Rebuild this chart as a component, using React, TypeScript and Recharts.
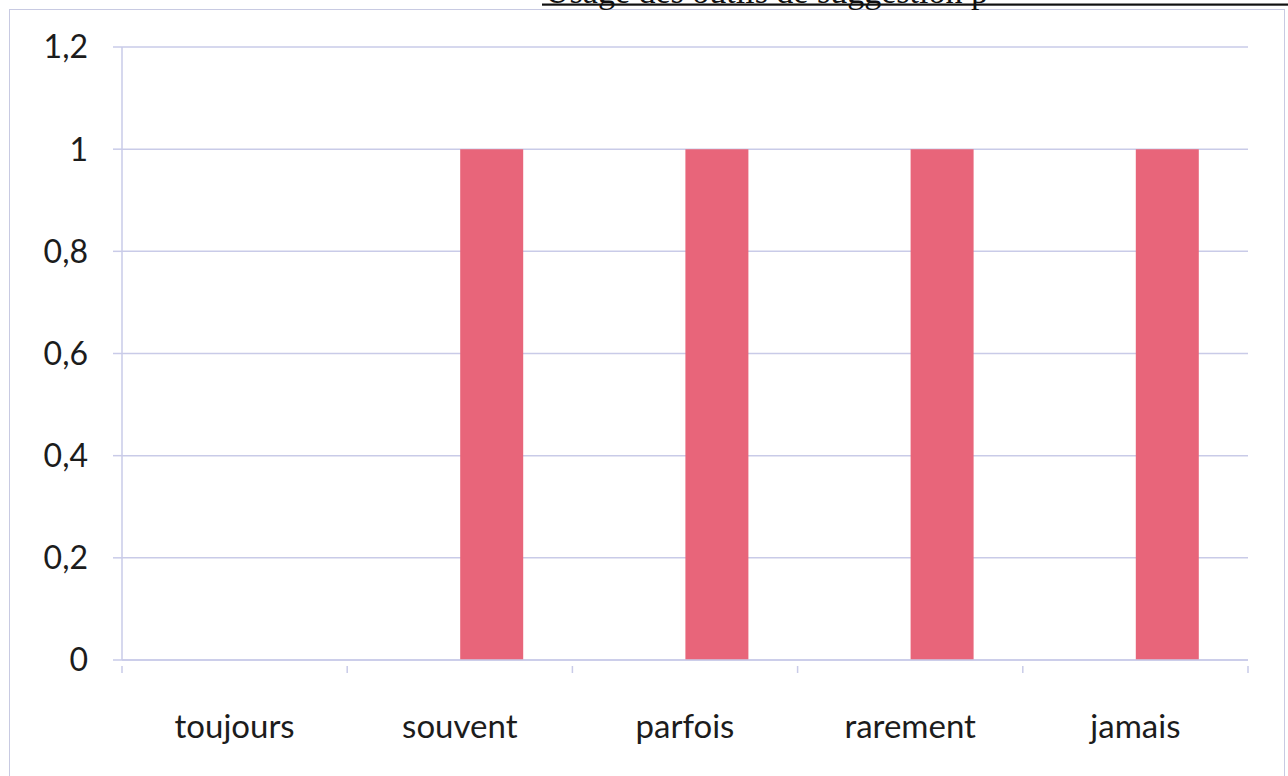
import { Bar, BarChart, CartesianGrid, XAxis, YAxis } from 'recharts';

const CATEGORIES = ['toujours', 'souvent', 'parfois', 'rarement', 'jamais'];
const SERIE_1 = [0, 0, 0, 0, 0];
const SERIE_2 = [0, 1, 1, 1, 1];
const Y_TICKS = [0, 0.2, 0.4, 0.6, 0.8, 1, 1.2];
const TITLE = 'Usage des outils de suggestion p';

const GRID = '#c9cbe8';
const TEXT = '#1c1c1c';
const BAR = '#e8657a';
const FONT = 'Lato, "Open Sans", sans-serif';

const data = CATEGORIES.map((name, i) => ({ name, s1: SERIE_1[i], s2: SERIE_2[i] }));

function XTick(props: any) {
  const { x, y, payload, index } = props;
  const half = payload?.offset || 112.6;
  const axisY = y - 49;
  return (
    <g>
      <line x1={x - half} x2={x - half} y1={axisY} y2={axisY + 7} stroke={GRID} strokeWidth={1.5} />
      {index === CATEGORIES.length - 1 && (
        <line x1={x + half} x2={x + half} y1={axisY} y2={axisY + 7} stroke={GRID} strokeWidth={1.5} />
      )}
      <text x={x} y={y} dy="0.71em" textAnchor="middle" fill={TEXT} fontSize={33} fontFamily={FONT}>
        {payload.value}
      </text>
    </g>
  );
}

export default function App() {
  return (
    <div style={{ position: 'fixed', left: 0, top: 0, width: 1288, height: 776, overflow: 'hidden', background: '#fff' }}>
      <div
        style={{
          position: 'absolute',
          left: 9,
          top: 9,
          width: 1276,
          height: 800,
          border: '1.5px solid #c8cae2',
          boxSizing: 'border-box',
        }}
      />
      <div style={{ position: 'absolute', left: 0, top: 0 }}>
        <BarChart
          width={1288}
          height={776}
          data={data}
          margin={{ top: 47, right: 40, bottom: 36, left: 0 }}
          barSize={63}
          barGap={0}
        >
          <CartesianGrid vertical={false} stroke={GRID} strokeWidth={1.5} />
          <XAxis
            dataKey="name"
            height={80}
            axisLine={{ stroke: GRID, strokeWidth: 1.5 }}
            tickLine={false}
            tickMargin={49}
            tick={<XTick />}
            interval={0}
          />
          <YAxis
            width={122}
            domain={[0, 1.2]}
            ticks={Y_TICKS}
            tickFormatter={(v: number) => String(v).replace('.', ',')}
            axisLine={{ stroke: GRID, strokeWidth: 1.5 }}
            tickLine={{ stroke: GRID, strokeWidth: 1.5 }}
            tickSize={9}
            tickMargin={25}
            tick={{ fill: TEXT, fontSize: 32, fontFamily: FONT }}
          />
          <Bar dataKey="s1" fill="#4f81bd" isAnimationActive={false} />
          <Bar dataKey="s2" fill={BAR} isAnimationActive={false} />
        </BarChart>
      </div>
      <svg width={1288} height={20} style={{ position: 'absolute', left: 0, top: 0, zIndex: 2, display: 'block' }}>
        <text x={545} y={2.5} fontFamily='"Liberation Serif", serif' fontSize={34} fill="#111">
          {TITLE}
        </text>
        <rect x={542} y={3.5} width={746} height={2.2} fill="#111" />
      </svg>
    </div>
  );
}
